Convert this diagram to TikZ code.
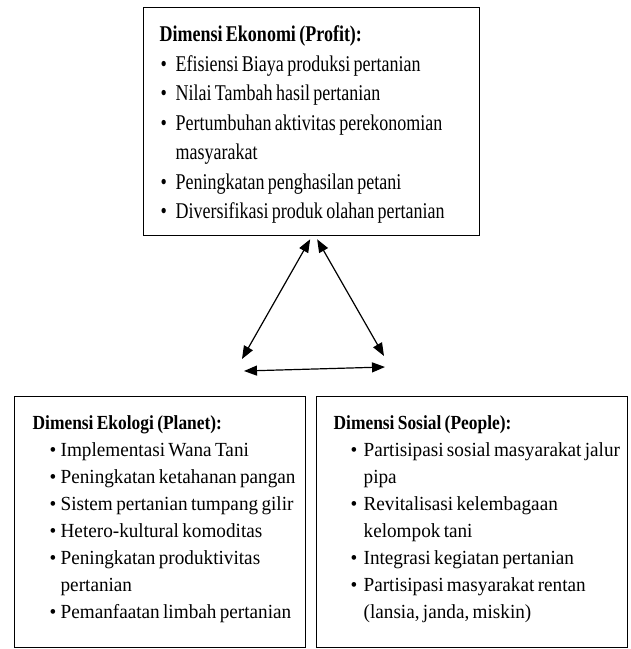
\documentclass[tikz,border=0pt]{standalone}
\usepackage{fontspec}
\setmainfont{Liberation Serif}
\newfontfamily\ekonfont{Liberation Serif}[FakeStretch=0.8]
\newfontfamily\dimfont{Liberation Serif}[FakeStretch=0.96]
\newfontfamily\dimheadfont{Liberation Serif}[FakeStretch=0.87]
\usetikzlibrary{arrows.meta,positioning}

\newlength{\bulind}
\newlength{\txtind}
\newcommand{\dimhead}[2]{\noindent\hspace*{#1}\textbf{#2}\par}
\newcommand{\dimitem}[1]{\noindent\hangindent=\txtind\hangafter=1\hspace*{\bulind}\makebox[\dimexpr\txtind-\bulind\relax][l]{\textbullet}#1\par}
\newcommand{\brk}{\hfil\break}

\tikzset{
  dimbox/.style={draw, line width=1.3pt, inner sep=0pt, anchor=north west},
  relarrow/.style={line width=1.2pt, {Triangle[length=13pt,width=10pt]}-{Triangle[length=13pt,width=10pt]}}
}

\begin{document}
\begin{tikzpicture}[x=1pt,y=-1pt]
   \useasboundingbox (0,0) rectangle (631,649);
   % the three dimensions
   \node[dimbox, text width=336pt, text height=34pt, text depth=194pt] (ekonomi) at (143,7)
     {\raggedright\ekonfont\fontsize{22.5}{29.5}\selectfont\setlength{\bulind}{17pt}\setlength{\txtind}{32pt}%
      \dimhead{16pt}{Dimensi Ekonomi (Profit):}
      \dimitem{Efisiensi Biaya produksi pertanian}
      \dimitem{Nilai Tambah hasil pertanian}
      \dimitem{Pertumbuhan aktivitas perekonomian\brk masyarakat}
      \dimitem{Peningkatan penghasilan petani}
      \dimitem{Diversifikasi produk olahan pertanian}};
   \node[dimbox, text width=291pt, text height=33pt, text depth=218pt] (ekologi) at (14,396)
     {\raggedright\dimfont\fontsize{20}{27}\selectfont\setlength{\bulind}{35pt}\setlength{\txtind}{46pt}%
      \dimhead{18pt}{\dimheadfont Dimensi Ekologi (Planet):}
      \dimitem{Implementasi Wana Tani}
      \dimitem{Peningkatan ketahanan pangan}
      \dimitem{Sistem pertanian tumpang gilir}
      \dimitem{Hetero-kultural komoditas}
      \dimitem{Peningkatan produktivitas\brk pertanian}
      \dimitem{Pemanfaatan limbah pertanian}};
   \node[dimbox, text width=311pt, text height=33pt, text depth=218pt] (sosial) at (316,396)
     {\raggedright\dimfont\fontsize{20}{27}\selectfont\setlength{\bulind}{34pt}\setlength{\txtind}{47pt}%
      \dimhead{17pt}{\dimheadfont Dimensi Sosial (People):}
      \dimitem{Partisipasi sosial masyarakat jalur\brk pipa}
      \dimitem{Revitalisasi kelembagaan\brk kelompok tani}
      \dimitem{Integrasi kegiatan pertanian}
      \dimitem{Partisipasi masyarakat rentan\brk (lansia, janda, miskin)}};
   % triangle of relations
   \coordinate (ekolpt) at (242,359);
   \coordinate (sospt) at (384,356);
   \coordinate (ekolbase) at (244,371);
   \coordinate (sosbase) at (385,367);
   \draw[relarrow] ([xshift=-1.5pt,yshift=-3pt]ekonomi.south) -- (ekolpt);
   \draw[relarrow] ([xshift=5.5pt,yshift=-3pt]ekonomi.south) -- (sospt);
   \draw[relarrow] (ekolbase) -- (sosbase);
\end{tikzpicture}
\end{document}
